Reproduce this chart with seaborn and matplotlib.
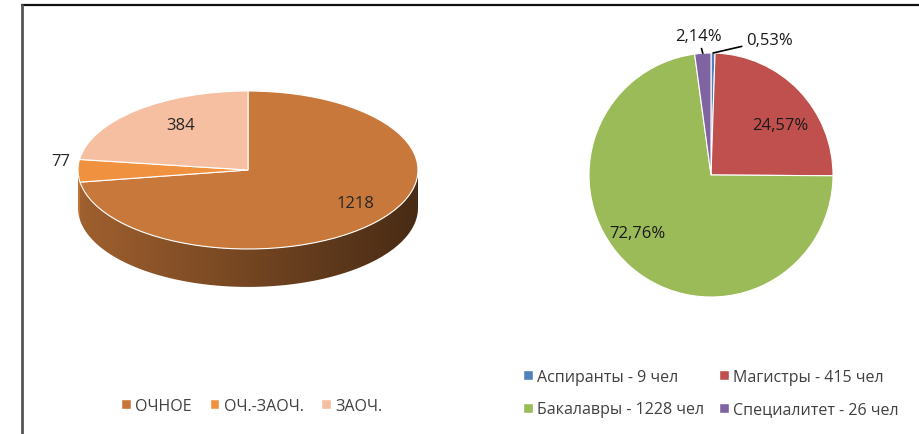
import numpy as np
import matplotlib
matplotlib.use("Agg")
import matplotlib.pyplot as plt
import matplotlib.colors as mcolors
import seaborn as sns
from matplotlib.patches import Patch, Polygon
from matplotlib.lines import Line2D

sns.set_theme(style="white")
plt.rcParams['font.family'] = ['Open Sans', 'DejaVu Sans']

# Left pie: form of study
forms = ['ОЧНОЕ', 'ОЧ.-ЗАОЧ.', 'ЗАОЧ.']
form_counts = [1218, 77, 384]
form_colors = sns.color_palette(['#C8783A', '#F0913F', '#F6BFA1'])

# Right pie: level of study
levels = ['Аспиранты', 'Магистры', 'Бакалавры', 'Специалитет']
level_people = [9, 415, 1228, 26]
level_pct = [0.53, 24.57, 72.76, 2.14]
level_colors = sns.color_palette(['#4F81BD', '#C0504D', '#9BBB59', '#8064A2'])

W, H = 919, 435
fig = plt.figure(figsize=(W / 100, H / 100), dpi=100)


def px_axes(x0, y0, x1, y1):
    # axes from pixel box (top-left origin)
    return fig.add_axes([x0 / W, 1 - y1 / H, (x1 - x0) / W, (y1 - y0) / H])


# ---------- left: pseudo 3D pie ----------
cx, cy, rx, ry = 248, 171, 170, 79
depth = 0.48
ax1 = px_axes(30, 6, 470, 435)
wedges, _ = ax1.pie(form_counts, colors=form_colors, startangle=90, counterclock=False,
                    wedgeprops=dict(edgecolor='white', linewidth=0.8, zorder=3))

# side wall, only the front half is visible; shaded light (left) -> dark (right)
shade = np.linspace(0.80, 0.36, 256)
for w, c in zip(wedges, form_colors):
    for k in (-360, 0, 360):
        a0 = max(w.theta1 + k, 180)
        a1 = min(w.theta2 + k, 360)
        if a1 <= a0:
            continue
        t = np.radians(np.linspace(a0, a1, 200))
        top = np.column_stack([np.cos(t), np.sin(t)])
        bot = np.column_stack([np.cos(t[::-1]), np.sin(t[::-1]) - depth])
        clip = Polygon(np.vstack([top, bot]), closed=True, facecolor='none', edgecolor='none')
        ax1.add_patch(clip)
        img = np.array(mcolors.to_rgb(c))[None, None, :] * shade[None, :, None]
        im = ax1.imshow(np.clip(img, 0, 1), extent=[-1, 1, -1 - depth, 0], aspect='auto',
                        interpolation='bilinear', zorder=1)
        im.set_clip_path(clip)

ax1.set_aspect('auto')
ax1.set_xlim((30 - cx) / rx, (470 - cx) / rx)
ax1.set_ylim((cy - 435) / ry, (cy - 6) / ry)
ax1.axis('off')

label_r = [0.83, 1.1, 0.6]
lift = 0.12
for w, n, r in zip(wedges, form_counts, label_r):
    mid = np.radians((w.theta1 + w.theta2) / 2)
    ax1.text(r * np.cos(mid), r * np.sin(mid) + lift, str(n), ha='center', va='center',
             fontsize=12, color='#262626', zorder=5)

fig.legend([Patch(facecolor=c) for c in form_colors], forms, loc='center',
           bbox_to_anchor=(252 / W, 1 - 407 / H), ncol=3, frameon=False,
           handlelength=0.6, handleheight=0.6, handletextpad=0.3, columnspacing=1.1,
           fontsize=11.5, labelcolor='#404040')

# ---------- right: flat pie ----------
rcx, rcy, rr = 711, 176, 122
ax2 = px_axes(rcx - 1.3 * rr, rcy - 1.3 * rr, rcx + 1.3 * rr, rcy + 1.3 * rr)
wedges2, _ = ax2.pie(level_pct, colors=level_colors, startangle=90, counterclock=False,
                     wedgeprops=dict(edgecolor='white', linewidth=0.8))
ax2.set_xlim(-1.3, 1.3)
ax2.set_ylim(-1.3, 1.3)

pct_txt = [f"{p:.2f}".replace('.', ',') + '%' for p in level_pct]
ax2.text(0.566, 0.41, pct_txt[1], ha='center', va='center', fontsize=12, color='#1a1a1a')
ax2.text(-0.607, -0.475, pct_txt[2], ha='center', va='center', fontsize=12, color='#1a1a1a')
for i, (tx, ty, ha) in zip([0, 3], [(0.29, 1.107, 'left'), (-0.107, 1.14, 'center')]):
    w = wedges2[i]
    mid = np.radians((w.theta1 + w.theta2) / 2)
    ax2.annotate(pct_txt[i], xy=(np.cos(mid), np.sin(mid)), xytext=(tx, ty),
                 ha=ha, va='center', fontsize=12, color='#1a1a1a',
                 arrowprops=dict(arrowstyle='-', color='black', lw=1.2, shrinkA=1, shrinkB=0))

lv_labels = [f"{n} - {p} чел" for n, p in zip(levels, level_people)]
order = [0, 2, 1, 3]
fig.legend([Patch(facecolor=level_colors[i]) for i in order], [lv_labels[i] for i in order],
           loc='center', bbox_to_anchor=(711 / W, 1 - 394 / H), ncol=2, frameon=False,
           handlelength=0.6, handleheight=0.6, handletextpad=0.3, columnspacing=0.9,
           labelspacing=1.05, fontsize=11.5, labelcolor='#404040')

# frame lines of the original figure
fig.add_artist(Line2D([22 / W, 1], [1 - 6 / H, 1 - 6 / H], color='#111111', lw=1.6))
fig.add_artist(Line2D([22 / W, 22 / W], [0, 1 - 6 / H], color='#555555', lw=2))

fig.savefig('out.png', dpi=100)
